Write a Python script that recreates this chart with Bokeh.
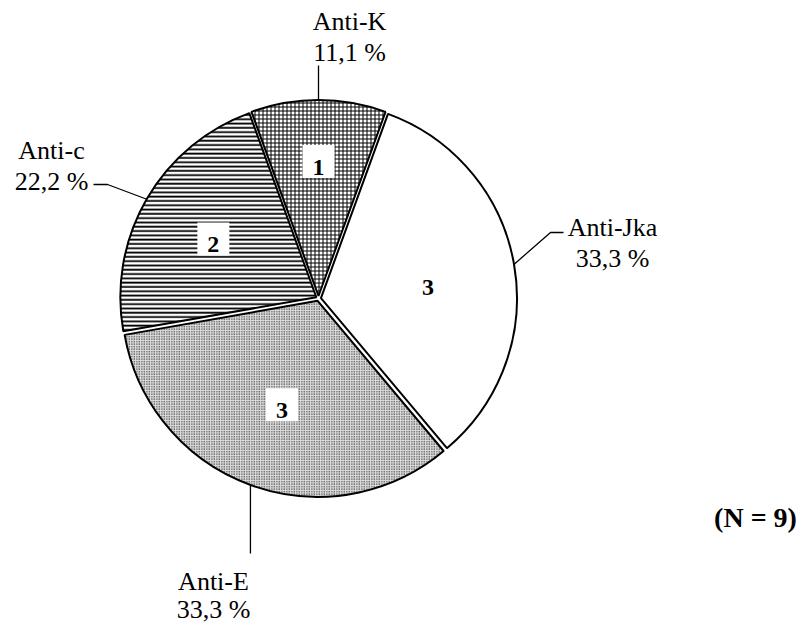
import math
from bokeh.plotting import figure
from bokeh.models import Range1d
from bokeh.core.properties import value
from bokeh.embed import file_html
from bokeh.resources import INLINE

# ---- data ----
names = ["Anti-K", "Anti-c", "Anti-E", "Anti-Jka"]
counts = [1, 2, 3, 3]
percents = ["11,1 %", "22,2 %", "33,3 %", "33,3 %"]
total_label = "(N = 9)"

# ---- layout / style (data units = window pixels, y measured from top) ----
W, H = 802, 626
CX, CY, R = 318, 298, 196
START_DEG = 70.0
EXPLODE = 2.5
hatch = ["+", "-", ".", " "]
hatch_scale = [4.0, 4.3, 2.5, 4.0]
hatch_weight = [1.0, 1.8, 1.0, 1.0]
fills = ["white", "white", "#dedede", "white"]
num_r = [131, 118, 118, 110]
num_da = [0, 3, 2, -4]
boxed = [True, True, True, False]
FONT = value("Liberation Serif")


def sy(y):
    return H - y


p = figure(width=W, height=H, output_backend="svg", toolbar_location=None,
           x_range=Range1d(0, W), y_range=Range1d(0, H), min_border=0)
p.axis.visible = False
p.grid.visible = False
p.outline_line_color = None
p.background_fill_color = "white"
p.border_fill_color = "white"

tot = sum(counts)
a0 = START_DEG
slices = []
for c in counts:
    a1 = a0 + 360.0 * c / tot
    slices.append((math.radians(a0), math.radians(a1), (a0 + a1) / 2))
    a0 = a1

for i, (s, e, mid) in enumerate(slices):
    m = math.radians(mid)
    x = CX + EXPLODE * math.cos(m)
    y = sy(CY) + EXPLODE * math.sin(m)
    p.wedge(x=[x], y=[y], radius=R, start_angle=[s], end_angle=[e],
            fill_color=fills[i], line_color="black", line_width=2.0,
            hatch_pattern=hatch[i], hatch_scale=hatch_scale[i],
            hatch_weight=hatch_weight[i], hatch_color="black")

# numbers inside slices
for i, (s, e, mid) in enumerate(slices):
    m = math.radians(mid + num_da[i])
    x = CX + num_r[i] * math.cos(m)
    y = sy(CY) + num_r[i] * math.sin(m)
    if boxed[i]:
        p.rect(x=[x], y=[y + 6], width=32, height=33, fill_color="white", line_color=None)
    p.text(x=[x], y=[y], text=[str(counts[i])], text_font=FONT,
           text_font_style="bold", text_font_size="24px",
           text_align="center", text_baseline="middle", text_color="black")


def arc_pt(mid_deg, r):
    m = math.radians(mid_deg)
    return CX + r * math.cos(m), sy(CY) + r * math.sin(m)


LW = 1.3
mids = [sl[2] for sl in slices]
# Anti-K: vertical leader upward
x0, y0 = arc_pt(mids[0], R + 3)
p.line([x0, x0], [y0, sy(65)], line_color="black", line_width=LW)
# Anti-c: diagonal then short horizontal
x1, y1 = arc_pt(mids[1], R + 3)
p.line([x1, 107, 93], [y1, sy(184), sy(184)], line_color="black", line_width=LW)
# Anti-E: vertical leader downward
x2, y2 = arc_pt(mids[2], R + 3)
p.line([x2, x2], [y2, sy(553)], line_color="black", line_width=LW)
# Anti-Jka: diagonal then short horizontal
x3, y3 = arc_pt(mids[3], R + 3)
p.line([x3, 550, 563], [y3, sy(232), sy(232)], line_color="black", line_width=LW)

# label anchors: (center x, middle y of name, middle y of percent)
label_pos = [(349, 21, 52), (51, 150, 181), (213, 581, 609), (612, 227, 258)]
for i, (lx, m1, m2) in enumerate(label_pos):
    p.text(x=[lx], y=[sy(m1)], text=[names[i]], text_font=FONT, text_font_size="26px",
           text_align="center", text_baseline="middle", text_color="black")
    p.text(x=[lx], y=[sy(m2)], text=[percents[i]], text_font=FONT, text_font_size="26px",
           text_align="center", text_baseline="middle", text_color="black")

p.text(x=[755], y=[sy(517)], text=[total_label], text_font=FONT, text_font_style="bold",
       text_font_size="28px", text_align="center", text_baseline="middle",
       text_color="black")

open("out.html", "w").write(file_html(p, INLINE))
